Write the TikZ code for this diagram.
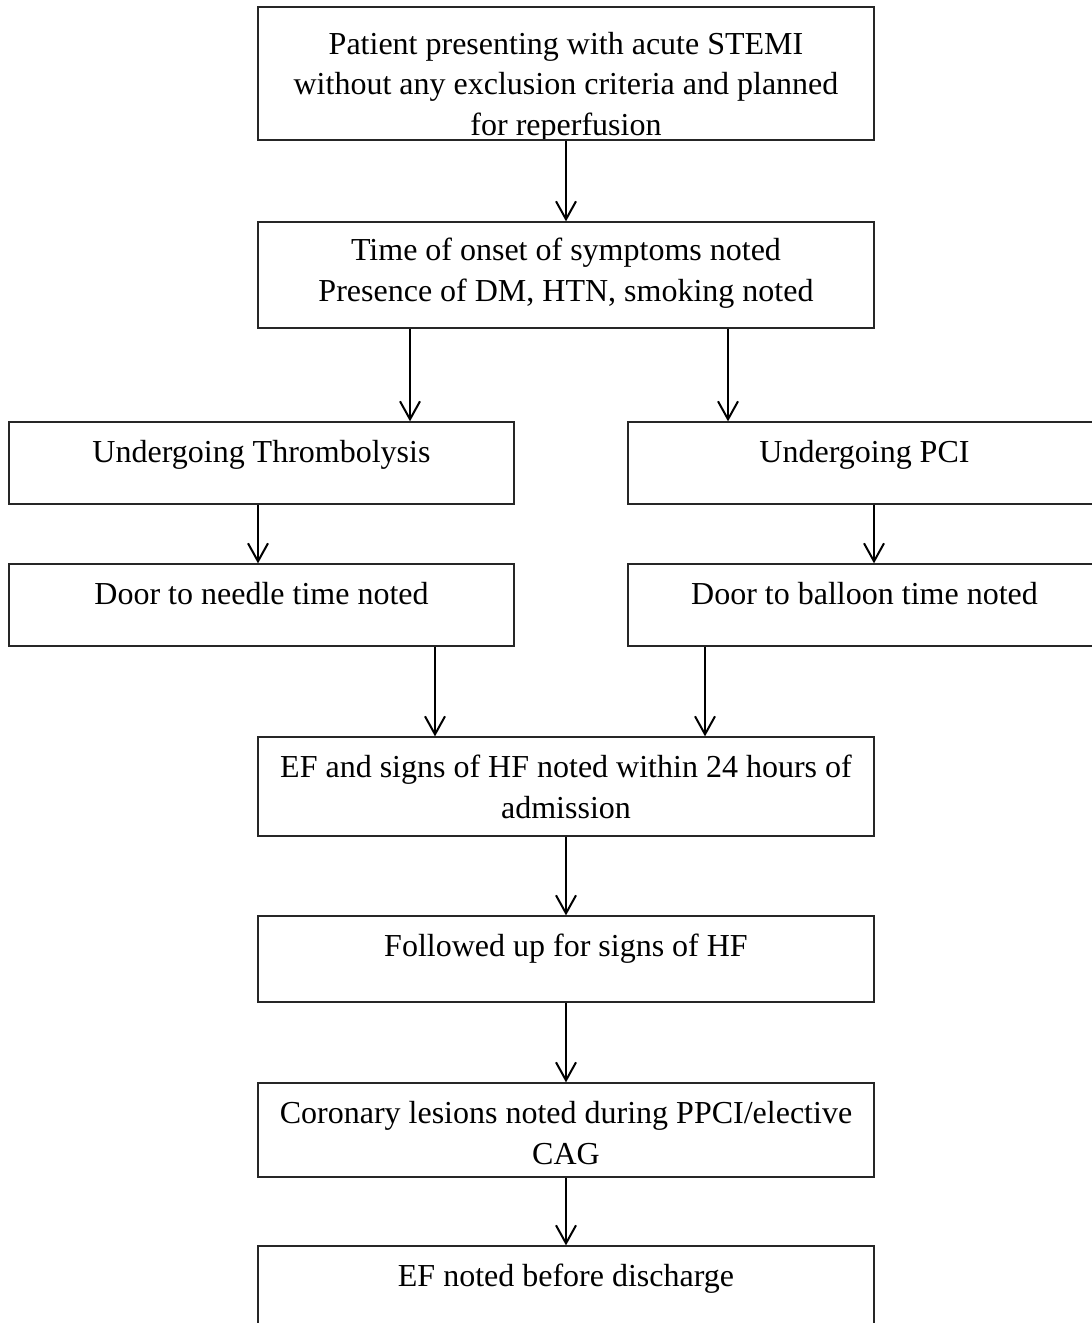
\documentclass[tikz,border=0pt]{standalone}
\usepackage{fontspec}
\setmainfont{Liberation Serif}
\usetikzlibrary{arrows.meta}
\begin{document}
\begin{tikzpicture}[x=1pt,y=-1pt,
  box/.style={draw=black!85,line width=1.3pt,inner sep=0pt,rectangle},
  txt/.style={anchor=base,inner sep=0pt,font=\fontsize{32}{41.5}\selectfont},
  arr/.style={line width=2pt,-{Straight Barb[length=18pt,width=20pt,line width=2pt]}}]
\useasboundingbox (0,0) rectangle (1092,1323);
\clip (0,0) rectangle (1092,1323);
\fill[white] (0,0) rectangle (1092,1323);
% boxes
\node[box,minimum width=616pt,minimum height=133pt] (b1) at (566,73.5) {};
\node[box,minimum width=616pt,minimum height=106pt] (b2) at (566,275) {};
\node[box,minimum width=505pt,minimum height=82pt] (b3l) at (261.5,463) {};
\node[box,minimum width=473pt,minimum height=82pt] (b3r) at (864.5,463) {};
\node[box,minimum width=505pt,minimum height=82pt] (b4l) at (261.5,605) {};
\node[box,minimum width=473pt,minimum height=82pt] (b4r) at (864.5,605) {};
\node[box,minimum width=616pt,minimum height=99pt] (b5) at (566,786.5) {};
\node[box,minimum width=616pt,minimum height=86pt] (b6) at (566,959) {};
\node[box,minimum width=616pt,minimum height=94pt] (b7) at (566,1130) {};
\node[box,minimum width=616pt,minimum height=114pt] (b8) at (566,1303) {};
% texts
\begin{scope}
\clip (258,7) rectangle (874,138.5);
\node[txt] (t1a) at (566,54) {Patient presenting with acute STEMI};
\node[txt] (t1b) at (566,94.5) {without any exclusion criteria and planned};
\node[txt] (t1c) at (566,135.5) {for reperfusion};
\end{scope}
\node[txt] (t2a) at (566,260) {Time of onset of symptoms noted};
\node[txt] (t2b) at (566,301.5) {Presence of DM, HTN, smoking noted};
\node[txt] (t3l) at (261.5,462) {Undergoing Thrombolysis};
\node[txt] (t3r) at (864.5,462) {Undergoing PCI};
\node[txt] (t4l) at (261.5,604) {Door to needle time noted};
\node[txt] (t4r) at (864.5,604) {Door to balloon time noted};
\node[txt] (t5a) at (566,777) {EF and signs of HF noted within 24 hours of};
\node[txt] (t5b) at (566,818.5) {admission};
\node[txt] (t6) at (566,956) {Followed up for signs of HF};
\node[txt] (t7a) at (566,1123) {Coronary lesions noted during PPCI/elective};
\node[txt] (t7b) at (566,1164.5) {CAG};
\node[txt] (t8) at (566,1286) {EF noted before discharge};
% arrow columns
\coordinate (xa) at (410,0);
\coordinate (xb) at (728,0);
\coordinate (xc) at (258,0);
\coordinate (xd) at (874,0);
\coordinate (xe) at (435,0);
\coordinate (xf) at (705,0);
% connectors
\draw[arr] (b1.south) -- (b2.north);
\draw[arr] (b2.south -| xa) -- (b3l.north -| xa);
\draw[arr] (b2.south -| xb) -- (b3r.north -| xb);
\draw[arr] (b3l.south -| xc) -- (b4l.north -| xc);
\draw[arr] (b3r.south -| xd) -- (b4r.north -| xd);
\draw[arr] (b4l.south -| xe) -- (b5.north -| xe);
\draw[arr] (b4r.south -| xf) -- (b5.north -| xf);
\draw[arr] (b5.south) -- (b6.north);
\draw[arr] (b6.south) -- (b7.north);
\draw[arr] (b7.south) -- (b8.north);
\end{tikzpicture}
\end{document}
